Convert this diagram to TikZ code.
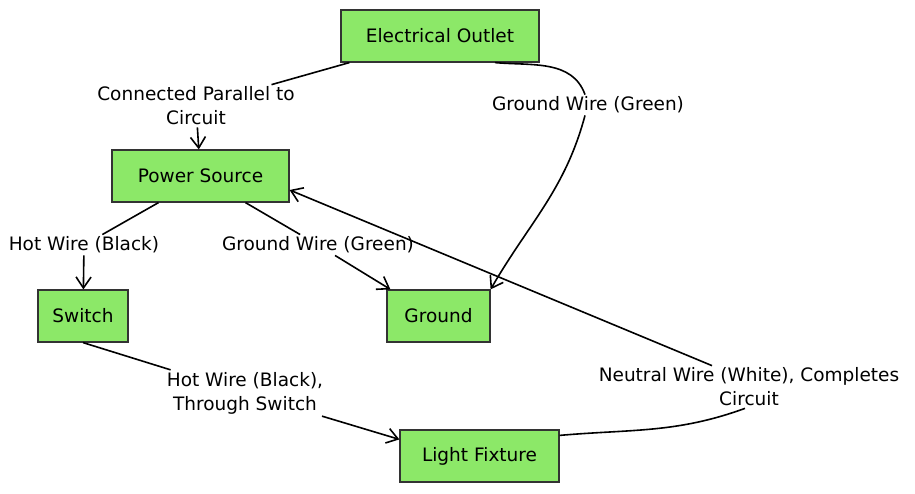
\documentclass[tikz,border=0pt]{standalone}
\usepackage{fontspec}
\setmainfont{DejaVu Sans}
\usetikzlibrary{arrows.meta}
\definecolor{boxgreen}{RGB}{140,232,104}
\definecolor{boxedge}{RGB}{51,51,51}

\begin{document}
\begin{tikzpicture}[x=1pt, y=1pt,
	part/.style={draw=boxedge, fill=boxgreen, line width=1.2pt, minimum height=52pt, font=\fontsize{18.5}{24}\selectfont},
	wirelabel/.style={align=center, inner sep=2pt, font=\fontsize{18.5}{24}\selectfont},
	wire/.style={line width=1.6pt},
	wirearrow/.style={wire, -{Straight Barb[length=11pt, width=15pt]}}]
	\useasboundingbox (0, 0) rectangle (915, 493);
	%parts
	\node[part, minimum width=198pt] (outlet) at (440, 457) {Electrical Outlet};
	\node[part, minimum width=177pt] (power) at (200.5, 317) {Power Source};
	\node[part, minimum width=90pt] (switch) at (83, 177) {Switch};
	\node[part, minimum width=103pt] (ground) at (438.5, 177) {Ground};
	\node[part, minimum width=159pt] (light) at (479.5, 37) {Light Fixture};
	%wire labels
	\node[wirelabel] (lblpar) at (196, 387) {Connected Parallel to\\Circuit};
	\node[wirelabel] (lblgndtop) at (588, 388) {Ground Wire (Green)};
	\node[wirelabel] (lblhot) at (84, 248) {Hot Wire (Black)};
	\node[wirelabel] (lblgnd) at (318, 248) {Ground Wire (Green)};
	\node[wirelabel] (lblswitch) at (245, 100) {Hot Wire (Black),\\Through Switch};
	\node[wirelabel] (lblneutral) at (749, 106) {Neutral Wire (White), Completes\\Circuit};
	%wires
	\draw[wire] ([xshift=9pt]outlet.south west) -- (lblpar);
	\draw[wirearrow] (lblpar) -- (power);
	\draw[wire] ([xshift=55pt]outlet.south) to[out=-5, in=110] ([xshift=-3pt]lblgndtop.north);
	\draw[wirearrow] ([xshift=-3pt]lblgndtop.south) to[out=-105, in=60] (ground.north east);
	\draw[wire] ([xshift=-42pt]power.south) -- (lblhot);
	\draw[wirearrow] (lblhot) -- (switch);
	\draw[wire] ([xshift=45pt]power.south) -- (lblgnd);
	\draw[wirearrow] (lblgnd) -- ([xshift=4pt]ground.north west);
	\draw[wire] (switch.south) -- (lblswitch);
	\draw[wirearrow] (lblswitch) -- ([yshift=-10pt]light.north west);
	\draw[wire] ([yshift=-6pt]light.north east) to[out=5, in=-160] ([xshift=-4pt]lblneutral.south);
	\draw[wirearrow] ([xshift=-37pt]lblneutral.north) -- ([yshift=-14pt]power.east);
\end{tikzpicture}
\end{document}
